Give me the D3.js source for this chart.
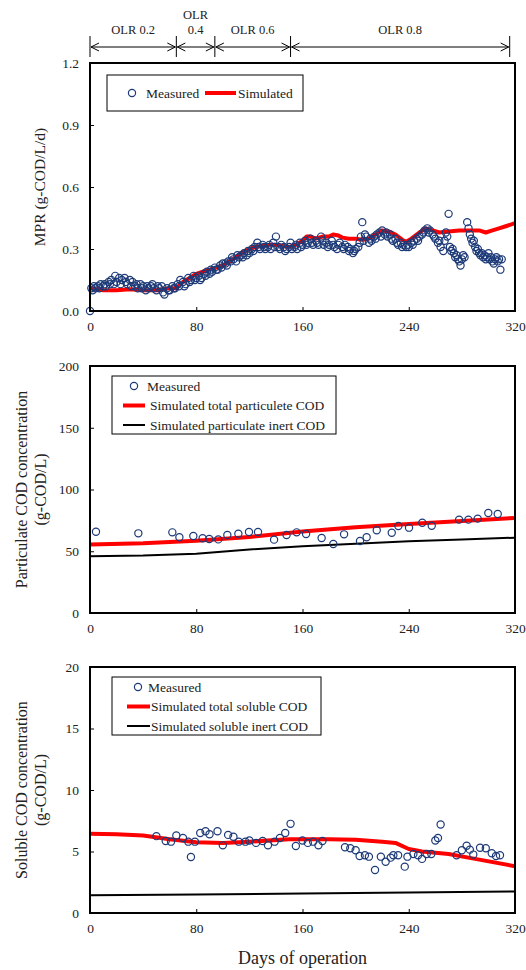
<!DOCTYPE html>
<html><head><meta charset="utf-8">
<script src="https://cdn.jsdelivr.net/npm/d3@7"></script>
<style>
body{margin:0;background:#fff;}
svg, svg text{font-family:"Liberation Serif","Times New Roman",Times,serif !important;}
</style></head>
<body><svg id="c" width="526" height="970" font-family="Liberation Serif"></svg>
<script>
// ---------------- DATA ----------------
const xTicks = [0, 80, 160, 240, 320];
const mprTicks = [0, 0.3, 0.6, 0.9, 1.2];
const partTicks = [0, 50, 100, 150, 200];
const solTicks = [0, 5, 10, 15, 20];

const olrBounds = [0, 65, 94, 151, 316];
const olrLabels = [["OLR 0.2"], ["OLR", "0.4"], ["OLR 0.6"], ["OLR 0.8"]];

const mprMeasured = [[0,0.00],[1,0.11],[2,0.10],[3,0.12],[4,0.11],[6,0.12],[7,0.11],[8,0.13],[10,0.12],[11,0.13],[12,0.12],[14,0.14],[15,0.13],[16,0.15],[18,0.13],[19,0.17],[20,0.14],[22,0.16],[23,0.13],[24,0.15],[26,0.16],[27,0.14],[28,0.13],[30,0.15],[31,0.12],[32,0.14],[34,0.12],[35,0.13],[36,0.11],[38,0.13],[39,0.11],[40,0.12],[42,0.10],[43,0.12],[44,0.11],[46,0.12],[47,0.13],[48,0.11],[50,0.10],[51,0.12],[52,0.11],[54,0.12],[55,0.09],[56,0.08],[58,0.11],[59,0.10],[60,0.10],[62,0.12],[63,0.11],[64,0.11],
[66,0.13],[67,0.12],[68,0.15],[70,0.14],[71,0.12],[72,0.13],[74,0.16],[75,0.14],[76,0.15],[78,0.17],[79,0.15],[80,0.16],[82,0.17],[83,0.15],[84,0.16],[86,0.18],[87,0.17],[88,0.19],[90,0.18],[91,0.20],[92,0.19],[94,0.21],[95,0.20],[96,0.20],[98,0.22],[99,0.21],[100,0.23],
[102,0.23],[103,0.22],[104,0.24],[106,0.24],[107,0.26],[108,0.25],[110,0.24],[111,0.27],[112,0.26],[114,0.27],[115,0.26],[116,0.28],[118,0.27],[119,0.29],[120,0.28],[122,0.30],[123,0.29],[124,0.31],[126,0.33],[127,0.31],[128,0.30],[130,0.32],[131,0.31],[132,0.30],[134,0.31],[135,0.32],[136,0.30],[138,0.33],[139,0.31],[140,0.36],[142,0.31],[143,0.30],[144,0.32],[146,0.31],[147,0.29],[148,0.30],[150,0.31],[151,0.33],[152,0.30],[154,0.31],[155,0.32],[156,0.30],[158,0.33],[159,0.31],[160,0.32],
[162,0.34],[163,0.32],[164,0.33],[166,0.35],[167,0.33],[168,0.32],[170,0.34],[171,0.33],[172,0.32],[174,0.36],[175,0.34],[176,0.32],[178,0.33],[179,0.31],[180,0.32],[182,0.34],[183,0.32],[184,0.31],[186,0.30],[187,0.32],[188,0.33],[190,0.31],[191,0.30],[192,0.32],[194,0.31],[195,0.29],[196,0.30],[198,0.28],[199,0.29],[200,0.30],[202,0.31],[203,0.33],[204,0.36],[205,0.43],[206,0.34],[207,0.37],[208,0.36],[210,0.33],
[211,0.35],[212,0.34],[214,0.36],[215,0.35],[216,0.37],[218,0.38],[219,0.36],[220,0.39],[222,0.37],[223,0.38],[224,0.36],[226,0.37],[227,0.35],[228,0.34],[230,0.35],[231,0.33],[232,0.32],[234,0.33],[235,0.31],[236,0.32],[238,0.31],[239,0.32],[240,0.31],[242,0.33],[243,0.32],[244,0.34],[246,0.35],[247,0.34],[248,0.36],[250,0.37],[251,0.38],[252,0.39],[254,0.40],[255,0.38],[256,0.39],[258,0.37],[259,0.36],[260,0.35],
[262,0.33],[263,0.34],[264,0.31],[266,0.29],[267,0.34],[268,0.38],[269,0.36],[270,0.47],[271,0.31],[272,0.29],[273,0.30],[274,0.28],[275,0.26],[276,0.27],[277,0.25],[278,0.24],[279,0.22],[280,0.25],[281,0.27],[282,0.26],[284,0.43],[285,0.40],[286,0.37],[287,0.35],[288,0.33],[289,0.34],[290,0.31],[291,0.29],[292,0.30],[293,0.28],[294,0.27],[295,0.28],[296,0.26],[297,0.27],[298,0.25],[299,0.26],[300,0.28],[301,0.25],[302,0.26],[303,0.24],[304,0.23],[305,0.25],[306,0.26],[307,0.24],[308,0.25],[309,0.20],[310,0.25]];

const mprSimulated = [[0,0.11],[10,0.10],[20,0.10],[30,0.105],[40,0.10],[50,0.10],[60,0.11],[65,0.11],[70,0.14],[75,0.16],[80,0.18],[85,0.19],[90,0.20],[95,0.21],[100,0.22],[105,0.24],[110,0.26],[115,0.285],[120,0.30],[125,0.31],[130,0.315],[135,0.32],[140,0.32],[145,0.315],[150,0.31],[155,0.32],[160,0.34],[163,0.36],[166,0.36],[170,0.35],[175,0.36],[180,0.36],[183,0.37],[187,0.365],[190,0.355],[195,0.35],[200,0.35],[205,0.345],[210,0.35],[215,0.37],[220,0.39],[225,0.385],[230,0.37],[235,0.345],[238,0.335],[242,0.35],[248,0.38],[253,0.40],[258,0.39],[263,0.38],[270,0.385],[278,0.39],[285,0.39],[293,0.39],[298,0.38],[303,0.39],[308,0.40],[313,0.41],[320,0.425]];

const partMeasured = [[4.5,65.8],[36.4,64.5],[62,65.3],[67.3,61.3],[77.8,62.3],[84.8,60.5],[89.8,59.9],[96.6,59.6],[103.4,63.2],[111.7,64.2],[119.7,65.6],[126.5,65.6],[138.6,59.4],[148,63.2],[155.6,65.3],[162.7,64],[174.4,60.7],[183.2,55.9],[191.3,63.7],[203.3,58.3],[208.3,61.3],[215.9,67],[227.2,65],[232.2,70.4],[240.2,69.1],[250.2,73.1],[257.3,70.7],[277.9,75.6],[284.9,75.6],[291.9,76.4],[299.9,81],[307,80.2]];
const partTotalSim = [[0,55.5],[40,56.5],[80,58.5],[120,61.5],[160,66],[200,69.5],[240,72],[280,74.5],[320,77]];
const partInertSim = [[0,46],[40,46.5],[80,48],[120,51.5],[160,54],[200,56],[240,58],[280,59.5],[320,61]];

const solMeasured = [[50,6.25],[57,5.85],[61,5.8],[65,6.3],[70,6.1],[74,5.8],[76,4.55],[79,5.8],[83,6.5],[87,6.65],[90,6.4],[96,6.65],[100,5.5],[104,6.35],[108,6.2],[112,5.8],[117,5.8],[120,5.9],[125,5.7],[130,5.85],[134,5.5],[139,5.8],[143,6.1],[147,6.5],[151,7.25],[155,5.45],[160,5.9],[164,5.7],[168,5.8],[172,5.5],[175,5.85],[192,5.34],[196,5.26],[200,5.1],[203,4.63],[207,4.7],[210,4.58],[214.6,3.5],[219,4.58],[222.6,4.17],[226.4,4.5],[228.4,4.7],[232,4.7],[237,3.77],[239,4.58],[243.5,4.8],[247,4.7],[250,4.4],[253.5,4.8],[257,4.8],[260,5.9],[262,6.1],[264,7.2],[276,4.7],[280,5.1],[283.6,5.47],[286,5.15],[288.6,4.75],[293.7,5.3],[298,5.26],[302.5,4.86],[305.7,4.63],[308.7,4.7]];
const solTotalSim = [[0,6.45],[20,6.4],[40,6.3],[60,6.0],[80,5.75],[100,5.7],[120,5.8],[150,6.0],[180,6.0],[200,5.95],[220,5.8],[230,5.7],[240,5.2],[250,5.0],[270,4.8],[290,4.4],[320,3.8]];
const solInertSim = [[0,1.45],[80,1.5],[160,1.58],[240,1.67],[320,1.75]];

// ---------------- DRAW ----------------
const FONT = "'Liberation Serif', 'Times New Roman', Times, serif";
const svg = d3.select("#c");
const NAVY = "#1d3a78", RED = "#ff0000";
const x = d3.scaleLinear().domain([0, 320]).range([90, 515]);

function txt(sel) {
  return sel.style("font-family", FONT).style("fill", "#222");
}

const panels = [
  {top:63, bottom:311, domain:[0,1.2], ticks:mprTicks, fmt:d3.format(".1f"),
   title:["MPR (g-COD/L/d)"], measured:mprMeasured,
   lines:[{data:mprSimulated, color:RED, w:4}],
   legend:{type:"row", x:107, y:75, w:196, h:36}},
  {top:366, bottom:613, domain:[0,200], ticks:partTicks, fmt:d3.format("d"),
   title:["Particulate COD concentration","(g-COD/L)"], measured:partMeasured,
   lines:[{data:partTotalSim, color:RED, w:4},{data:partInertSim, color:"#000", w:2}],
   legend:{type:"col", x:112, y:376, w:224, h:58,
     items:["Measured","Simulated total particulete COD","Simulated particulate inert COD"], mx:134, lx0:123, lx1:145, tx:150}},
  {top:667, bottom:913, domain:[0,20], ticks:solTicks, fmt:d3.format("d"),
   title:["Soluble COD concentration","(g-COD/L)"], measured:solMeasured,
   lines:[{data:solTotalSim, color:RED, w:4},{data:solInertSim, color:"#000", w:2}],
   legend:{type:"col", x:112, y:677, w:209, h:58,
     items:["Measured","Simulated total soluble COD","Simulated soluble inert COD"], mx:138, lx0:127, lx1:150, tx:151}}
];

panels.forEach(p => {
  const y = d3.scaleLinear().domain(p.domain).range([p.bottom, p.top]);
  const g = svg.append("g");
  const line = d3.line().x(d => x(d[0])).y(d => y(d[1])).curve(d3.curveLinear);
  p.lines.forEach(l => {
    g.append("path").datum(l.data).attr("d", line)
      .attr("fill","none").attr("stroke", l.color).attr("stroke-width", l.w)
      .attr("stroke-linejoin","round");
  });
  g.selectAll("circle.m").data(p.measured).enter().append("circle")
    .attr("cx", d => x(d[0])).attr("cy", d => y(d[1])).attr("r", 3.6)
    .attr("fill","none").attr("stroke", NAVY).attr("stroke-width", 1.2);
  const ya = d3.axisLeft(y).tickValues(p.ticks).tickFormat(p.fmt).tickSize(-4).tickPadding(11);
  const yg = g.append("g").attr("transform", `translate(${x(0)},0)`).call(ya);
  const xa = d3.axisBottom(x).tickValues(xTicks).tickFormat(d3.format("d")).tickSize(-4).tickPadding(10);
  const xg = g.append("g").attr("transform", `translate(0,${p.bottom})`).call(xa);
  [yg, xg].forEach(a => {
    a.attr("font-family", FONT);
    a.select(".domain").remove();
    a.selectAll(".tick line").attr("stroke","#000").attr("stroke-width",1);
    txt(a.selectAll(".tick text")).attr("font-size",13.5);
  });
  g.append("rect").attr("x", x(0)).attr("y", p.top).attr("width", x(320)-x(0)).attr("height", p.bottom-p.top)
    .attr("fill","none").attr("stroke","#000").attr("stroke-width",2);
  const cy = (p.top + p.bottom)/2;
  if (p.title.length === 1) {
    txt(svg.append("text")).attr("transform", `translate(40,${cy}) rotate(-90)`).attr("text-anchor","middle")
      .attr("dy","0.35em").attr("font-size",15.5).text(p.title[0]);
  } else {
    txt(svg.append("text")).attr("transform", `translate(21,${cy}) rotate(-90)`).attr("text-anchor","middle")
      .attr("dy","0.35em").attr("font-size",16).text(p.title[0]);
    txt(svg.append("text")).attr("transform", `translate(40,${cy}) rotate(-90)`).attr("text-anchor","middle")
      .attr("dy","0.35em").attr("font-size",16).text(p.title[1]);
  }
  const L = p.legend;
  const lg = svg.append("g");
  lg.append("rect").attr("x", L.x).attr("y", L.y).attr("width", L.w).attr("height", L.h)
    .attr("fill","#fff").attr("stroke","#000").attr("stroke-width",1);
  if (L.type === "row") {
    const cyL = L.y + L.h/2;
    lg.append("circle").attr("cx",132).attr("cy",cyL).attr("r",3.6).attr("fill","none").attr("stroke",NAVY).attr("stroke-width",1.2);
    txt(lg.append("text")).attr("x",146).attr("y",cyL).attr("dy","0.35em").attr("font-size",13.5).text("Measured");
    lg.append("line").attr("x1",205).attr("x2",236).attr("y1",cyL).attr("y2",cyL).attr("stroke",RED).attr("stroke-width",4);
    txt(lg.append("text")).attr("x",238).attr("y",cyL).attr("dy","0.35em").attr("font-size",13.5).text("Simulated");
  } else {
    const rows = [L.y+10, L.y+29.5, L.y+49];
    lg.append("circle").attr("cx",L.mx).attr("cy",rows[0]).attr("r",3.6).attr("fill","none").attr("stroke",NAVY).attr("stroke-width",1.2);
    lg.append("line").attr("x1",L.lx0).attr("x2",L.lx1).attr("y1",rows[1]).attr("y2",rows[1]).attr("stroke",RED).attr("stroke-width",4);
    lg.append("line").attr("x1",L.lx0).attr("x2",L.lx1).attr("y1",rows[2]).attr("y2",rows[2]).attr("stroke","#000").attr("stroke-width",2);
    L.items.forEach((t,i) => {
      txt(lg.append("text")).attr("x", i===0 ? L.tx-3 : L.tx).attr("y", rows[i]).attr("dy","0.35em").attr("font-size",13.5).text(t);
    });
  }
});

txt(svg.append("text")).attr("x", (x(0)+x(320))/2).attr("y", 958).attr("dy","0.35em").attr("text-anchor","middle")
  .attr("font-size",18).text("Days of operation");

const hy = 47, hTop = 36, hBot = 57;
const hg = svg.append("g").attr("stroke","#000").attr("fill","none");
olrBounds.forEach(b => {
  hg.append("line").attr("x1", x(b)).attr("x2", x(b)).attr("y1", hTop).attr("y2", hBot).attr("stroke-width",1);
});
for (let i = 0; i < olrBounds.length - 1; i++) {
  const a = x(olrBounds[i]) + 1, b = x(olrBounds[i+1]) - 1;
  hg.append("line").attr("x1", a).attr("x2", b).attr("y1", hy).attr("y2", hy).attr("stroke-width",1);
  hg.append("path").attr("d", `M${a+8},${hy-4}L${a},${hy}L${a+8},${hy+4}`).attr("stroke-width",1);
  hg.append("path").attr("d", `M${b-8},${hy-4}L${b},${hy}L${b-8},${hy+4}`).attr("stroke-width",1);
  const cxL = (x(olrBounds[i]) + x(olrBounds[i+1]))/2;
  const lbl = olrLabels[i];
  if (lbl.length === 1) {
    txt(svg.append("text")).attr("x", cxL).attr("y", 30).attr("dy","0.35em").attr("text-anchor","middle").attr("font-size",12.5).text(lbl[0]);
  } else {
    txt(svg.append("text")).attr("x", cxL).attr("y", 15).attr("dy","0.35em").attr("text-anchor","middle").attr("font-size",12.5).text(lbl[0]);
    txt(svg.append("text")).attr("x", cxL).attr("y", 30).attr("dy","0.35em").attr("text-anchor","middle").attr("font-size",12.5).text(lbl[1]);
  }
}
</script></body></html>
